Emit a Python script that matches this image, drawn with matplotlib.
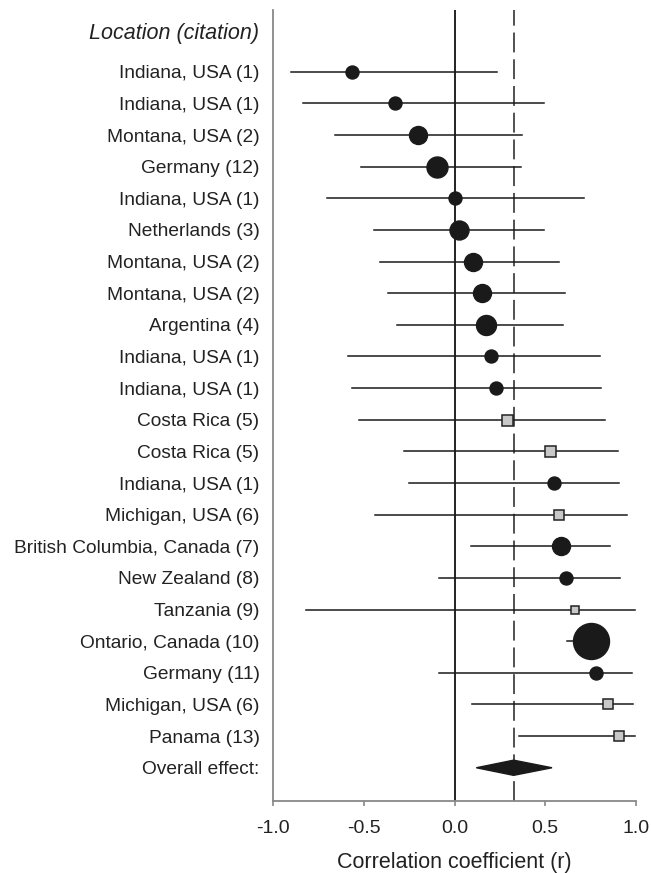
import numpy as np
import matplotlib
matplotlib.use('Agg')
import matplotlib.pyplot as plt
from matplotlib.patches import Polygon

plt.rcParams['font.family'] = ['Liberation Sans', 'DejaVu Sans']

locations = ['Indiana, USA (1)', 'Indiana, USA (1)', 'Montana, USA (2)', 'Germany (12)',
             'Indiana, USA (1)', 'Netherlands (3)', 'Montana, USA (2)', 'Montana, USA (2)',
             'Argentina (4)', 'Indiana, USA (1)', 'Indiana, USA (1)', 'Costa Rica (5)',
             'Costa Rica (5)', 'Indiana, USA (1)', 'Michigan, USA (6)',
             'British Columbia, Canada (7)', 'New Zealand (8)', 'Tanzania (9)',
             'Ontario, Canada (10)', 'Germany (11)', 'Michigan, USA (6)', 'Panama (13)']
r = [-0.565, -0.328, -0.204, -0.097, 0.004, 0.024, 0.101, 0.153, 0.175, 0.203, 0.227,
     0.288, 0.529, 0.547, 0.577, 0.590, 0.615, 0.665, 0.753, 0.781, 0.846, 0.908]
ci_low = [-0.904, -0.838, -0.659, -0.517, -0.702, -0.447, -0.414, -0.370, -0.317, -0.586,
          -0.567, -0.525, -0.278, -0.254, -0.440, 0.088, -0.085, -0.819, 0.621, -0.085,
          0.094, 0.354]
ci_high = [0.234, 0.496, 0.372, 0.367, 0.713, 0.492, 0.575, 0.608, 0.599, 0.801, 0.809,
           0.829, 0.903, 0.908, 0.952, 0.857, 0.912, 0.998, 0.850, 0.980, 0.986, 0.995]
# marker shape: 'o' = circle study, 's' = square study
kind = ['o', 'o', 'o', 'o', 'o', 'o', 'o', 'o', 'o', 'o', 'o', 's', 's', 'o', 's',
        'o', 'o', 's', 'o', 'o', 's', 's']
# relative study weight (marker size)
weight = [13, 13, 18, 21, 13, 19, 18, 18, 20, 13, 13, 11, 11, 13, 10, 18, 13, 8, 36, 13, 10, 10]

overall_r = 0.326
overall_low = 0.120
overall_high = 0.538

fig = plt.figure(figsize=(6.51, 8.73), dpi=100)
ax = fig.add_axes([0.420, 0.0825, 0.5565, 0.906])

n = len(locations)
ypos = np.arange(n)
px2pt = 72 / 100

ax.axvline(0, color='#111111', lw=1.3, zorder=1)
ax.axvline(overall_r, color='#222222', lw=1.1, ls=(0, (13, 4.5)), zorder=1)

for i in range(n):
    ax.plot([ci_low[i], ci_high[i]], [ypos[i], ypos[i]], color='#1a1a1a', lw=1.1, zorder=2)
    if kind[i] == 'o':
        ax.plot(r[i], ypos[i], 'o', ms=weight[i] * px2pt, color='#1a1a1a',
                mec='#1a1a1a', zorder=3)
    else:
        ax.plot(r[i], ypos[i], 's', ms=weight[i] * px2pt, color='#c8c8c8',
                mec='#222222', mew=1.1, zorder=3)

# overall effect diamond
yo = n
diamond = Polygon([[overall_low, yo], [overall_r, yo - 0.24], [overall_high, yo],
                   [overall_r, yo + 0.24]], closed=True, color='#1a1a1a', zorder=3)
ax.add_patch(diamond)

ax.set_xlim(-1.0, 1.0)
ax.set_ylim(23.05, -1.95)
ax.set_xticks([-1.0, -0.5, 0.0, 0.5, 1.0])
ax.set_xticklabels(['-1.0', '-0.5', '0.0', '0.5', '1.0'])
ax.set_yticks(list(ypos) + [yo])
ax.set_yticklabels(locations + ['Overall effect:'])
ax.tick_params(axis='y', length=0, pad=10, labelsize=13.8, labelcolor='#222222')
ax.tick_params(axis='x', direction='out', length=3.5, width=1.2, color='#888888',
               labelsize=14, labelcolor='#222222', pad=10)
for s in ['top', 'right']:
    ax.spines[s].set_visible(False)
for s in ['left', 'bottom']:
    ax.spines[s].set_color('#888888')
    ax.spines[s].set_linewidth(1.3)

ax.set_xlabel('Correlation coefficient (r)', fontsize=15.5, color='#222222', labelpad=11)
ax.text(-1.0 - 14 / 181, -1.2, 'Location (citation)', ha='right', va='center',
        fontsize=15.5, style='italic', color='#222222')

fig.savefig('out.png', dpi=100)
